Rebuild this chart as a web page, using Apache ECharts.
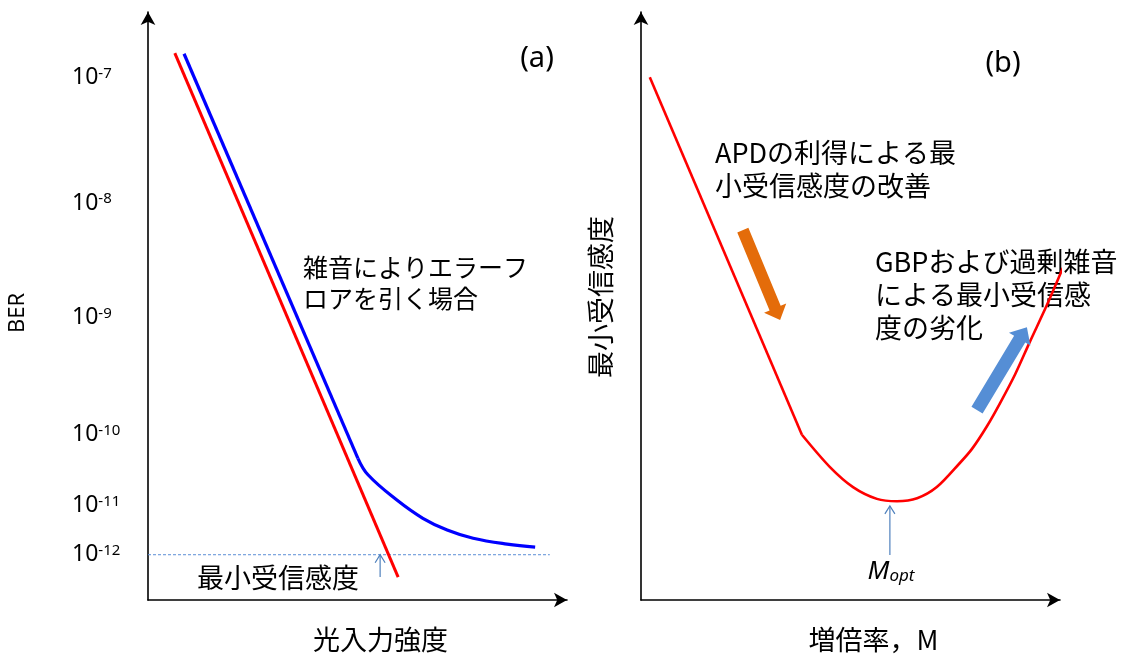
<!DOCTYPE html>
<html>
<head>
<meta charset="utf-8">
<script src="https://cdn.jsdelivr.net/npm/echarts@6/dist/echarts.min.js"></script>
<style>
  html, body { margin: 0; padding: 0; background: #fff; }
  #chart { width: 1121px; height: 654px; }
</style>
</head>
<body>
<div id="chart"></div>
<script>
// Both panels use schematic 0–100 axes (no numeric scale); BER ticks sit at fixed levels.

// ---- panel (a): BER vs optical input power ----
const berTickPos = [88.9, 67.5, 48.0, 28.1, 16.0, 7.7];
const berTickExp = ['-7', '-8', '-9', '-10', '-11', '-12'];

const idealX = [6.4, 59.7];
const idealY = [93.0, 3.9];

const floorLineX = [8.6, 50.1];
const floorLineY = [92.9, 24.1];
const floorCurveX = [50.1, 52.5, 59.4, 65.6, 71.4, 77.6, 85.7, 92.4];
const floorCurveY = [24.1, 21.3, 17.0, 13.9, 11.9, 10.5, 9.5, 9.0];

const sensLevel = 7.7;
const sensLineEndX = 95.9;
const sensPowerX = 55.4;
const sensArrowBaseY = 3.9;

// ---- panel (b): minimum sensitivity vs gain M ----
const descentX = [2.1, 38.4];
const descentY = [88.9, 28.1];
const bowlX = [38.4, 45.1, 50.6, 56.3, 61.1, 65.9, 70.6, 76.1, 79.0, 82.6, 85.7, 89.3, 92.8, 96.9, 100.7];
const bowlY = [28.1, 22.6, 19.2, 17.2, 16.8, 17.3, 19.2, 23.3, 25.7, 29.6, 33.5, 38.4, 43.9, 50.2, 56.5];

const moptX = 59.4;
const moptArrowY = [7.65, 16.0];

// block arrows: [x0, y0, x1, y1]
const gainArrow = [24.3, 62.9, 33.2, 47.6];
const gbpArrow = [80.2, 32.3, 92.1, 46.4];

const pair = (xs, ys) => xs.map((x, i) => [x, ys[i]]);

const CJK = "'Noto Sans CJK JP', 'Noto Sans', sans-serif";
const LAT = "'Noto Sans', 'Noto Sans CJK JP', sans-serif";

function blockArrowItem(color, shaftW, headW, headL) {
  return function (params, api) {
    const p0 = api.coord([api.value(0), api.value(1)]);
    const p1 = api.coord([api.value(2), api.value(3)]);
    const dx = p1[0] - p0[0], dy = p1[1] - p0[1];
    const len = Math.hypot(dx, dy);
    const ux = dx / len, uy = dy / len, nx = -uy, ny = ux;
    const bx = p1[0] - ux * headL, by = p1[1] - uy * headL;
    const pts = [
      [p0[0] + nx * shaftW / 2, p0[1] + ny * shaftW / 2],
      [bx + nx * shaftW / 2, by + ny * shaftW / 2],
      [bx + nx * headW / 2, by + ny * headW / 2],
      [p1[0], p1[1]],
      [bx - nx * headW / 2, by - ny * headW / 2],
      [bx - nx * shaftW / 2, by - ny * shaftW / 2],
      [p0[0] - nx * shaftW / 2, p0[1] - ny * shaftW / 2]
    ];
    return { type: 'polygon', shape: { points: pts }, style: { fill: color } };
  };
}

function thinArrowItem(color) {
  return function (params, api) {
    const p0 = api.coord([api.value(0), api.value(1)]);
    const p1 = api.coord([api.value(2), api.value(3)]);
    const dx = p1[0] - p0[0], dy = p1[1] - p0[1];
    const len = Math.hypot(dx, dy);
    const ux = dx / len, uy = dy / len, nx = -uy, ny = ux;
    const hl = 8, hw = 10;
    const bx = p1[0] - ux * hl, by = p1[1] - uy * hl;
    return {
      type: 'group',
      children: [
        { type: 'line', shape: { x1: p0[0], y1: p0[1], x2: p1[0], y2: p1[1] },
          style: { stroke: color, lineWidth: 1.2 } },
        { type: 'polyline',
          shape: { points: [[bx + nx * hw / 2, by + ny * hw / 2], [p1[0], p1[1]], [bx - nx * hw / 2, by - ny * hw / 2]] },
          style: { stroke: color, lineWidth: 1.2, fill: null } }
      ]
    };
  };
}

const axisLineStyle = { color: '#000', width: 1.6 };
const arrowAxisLine = { show: true, symbol: ['none', 'arrow'], symbolSize: [11, 13], lineStyle: axisLineStyle };

function baseX(gridIndex, name) {
  return {
    type: 'value', gridIndex, min: 0, max: 100,
    axisLine: arrowAxisLine, axisTick: { show: false }, axisLabel: { show: false },
    splitLine: { show: false },
    name, nameLocation: 'middle', nameGap: 26,
    nameTextStyle: { fontFamily: CJK, fontSize: 27, color: '#000', padding: [0, 0, 0, 46] }
  };
}

const chart = echarts.init(document.getElementById('chart'), null, { renderer: 'canvas' });

chart.setOption({
  animation: false,
  backgroundColor: '#fff',
  grid: [
    { left: 148, top: 12, width: 419, height: 588, containLabel: false, outerBoundsMode: 'none' },
    { left: 641, top: 12, width: 419, height: 588, containLabel: false, outerBoundsMode: 'none' }
  ],
  xAxis: [
    baseX(0, '光入力強度'),
    baseX(1, '増倍率，M')
  ],
  yAxis: [
    {
      type: 'value', gridIndex: 0, min: 0, max: 100,
      axisLine: arrowAxisLine, axisTick: { show: false }, splitLine: { show: false },
      axisLabel: {
        customValues: berTickPos,
        align: 'left', margin: 76,
        formatter: function (v) {
          let k = 0;
          berTickPos.forEach((p, i) => { if (Math.abs(p - v) < Math.abs(berTickPos[k] - v)) k = i; });
          return '{b|10}{s|' + berTickExp[k] + '}';
        },
        rich: {
          b: { fontFamily: LAT, fontSize: 23, color: '#000' },
          s: { fontFamily: LAT, fontSize: 15, color: '#000', verticalAlign: 'top' }
        }
      }
    },
    {
      type: 'value', gridIndex: 1, min: 0, max: 100,
      axisLine: arrowAxisLine, axisTick: { show: false }, axisLabel: { show: false },
      splitLine: { show: false },
      name: '最小受信感度', nameLocation: 'middle', nameGap: 27,
      nameTextStyle: { fontFamily: CJK, fontSize: 27, color: '#000', padding: [0, 0, 0, 18] }
    }
  ],
  series: [
    // (a) detection-limited BER
    { type: 'line', xAxisIndex: 0, yAxisIndex: 0, data: pair(idealX, idealY),
      symbol: 'none', lineStyle: { color: '#ff0000', width: 3 }, clip: false, z: 3 },
    // (a) BER with a noise-induced error floor
    { type: 'line', xAxisIndex: 0, yAxisIndex: 0, data: pair(floorLineX, floorLineY),
      symbol: 'none', lineStyle: { color: '#0000ff', width: 3.2 }, clip: false, z: 3 },
    { type: 'line', xAxisIndex: 0, yAxisIndex: 0, data: pair(floorCurveX, floorCurveY),
      symbol: 'none', smooth: 0.4, lineStyle: { color: '#0000ff', width: 3.2 }, clip: false, z: 3 },
    // (a) sensitivity level
    { type: 'line', xAxisIndex: 0, yAxisIndex: 0, data: [[0, sensLevel], [sensLineEndX, sensLevel]],
      symbol: 'none', lineStyle: { color: '#5b8fd6', width: 1, type: [3, 2] }, clip: false, z: 2 },
    { type: 'custom', xAxisIndex: 0, yAxisIndex: 0,
      renderItem: thinArrowItem('#4f81bd'),
      data: [[sensPowerX, sensArrowBaseY, sensPowerX, sensLevel]], clip: false, z: 4 },

    // (b) minimum sensitivity vs gain
    { type: 'line', xAxisIndex: 1, yAxisIndex: 1, data: pair(descentX, descentY),
      symbol: 'none', lineStyle: { color: '#ff0000', width: 2.6 }, clip: false, z: 3 },
    { type: 'line', xAxisIndex: 1, yAxisIndex: 1, data: pair(bowlX, bowlY),
      symbol: 'none', smooth: 0.3, lineStyle: { color: '#ff0000', width: 2.6 }, clip: false, z: 3 },
    { type: 'custom', xAxisIndex: 1, yAxisIndex: 1,
      renderItem: thinArrowItem('#4f81bd'),
      data: [[moptX, moptArrowY[0], moptX, moptArrowY[1]]], clip: false, z: 4 },
    { type: 'custom', xAxisIndex: 1, yAxisIndex: 1,
      renderItem: blockArrowItem('#e46c0a', 12, 24, 13),
      data: [gainArrow], clip: false, z: 4 },
    { type: 'custom', xAxisIndex: 1, yAxisIndex: 1,
      renderItem: blockArrowItem('#558ed5', 13, 25, 14),
      data: [gbpArrow], clip: false, z: 4 }
  ],
  graphic: [
    { type: 'text', x: 18, y: 313, rotation: Math.PI / 2,
      style: { text: 'BER', fontFamily: LAT, fontSize: 22, fill: '#000', align: 'center', verticalAlign: 'middle' } },
    { type: 'text', x: 537, y: 59, style: { text: '(a)', fontFamily: LAT, fontSize: 29, fill: '#000', align: 'center', verticalAlign: 'middle' } },
    { type: 'text', x: 1003, y: 64, style: { text: '(b)', fontFamily: LAT, fontSize: 29, fill: '#000', align: 'center', verticalAlign: 'middle' } },
    { type: 'text', x: 303, y: 283, style: { text: '雑音によりエラーフ\nロアを引く場合', fontFamily: CJK, fontSize: 25, lineHeight: 31, fill: '#000', align: 'left', verticalAlign: 'middle' } },
    { type: 'text', x: 197, y: 578, style: { text: '最小受信感度', fontFamily: CJK, fontSize: 27, fill: '#000', align: 'left', verticalAlign: 'middle' } },
    { type: 'text', x: 715, y: 169, style: { text: 'APDの利得による最\n小受信感度の改善', fontFamily: CJK, fontSize: 27, lineHeight: 33, fill: '#000', align: 'left', verticalAlign: 'middle' } },
    { type: 'text', x: 875, y: 295, style: { text: 'GBPおよび過剰雑音\nによる最小受信感\n度の劣化', fontFamily: CJK, fontSize: 27, lineHeight: 33, fill: '#000', align: 'left', verticalAlign: 'middle' } },
    { type: 'text', x: 891, y: 572, style: {
        text: '{m|M}{s|opt}', align: 'center', verticalAlign: 'middle',
        rich: {
          m: { fontFamily: LAT, fontSize: 26, fontStyle: 'italic', fill: '#000' },
          s: { fontFamily: LAT, fontSize: 17, fontStyle: 'italic', fill: '#000', verticalAlign: 'bottom' }
        } } }
  ]
});
</script>
</body>
</html>
